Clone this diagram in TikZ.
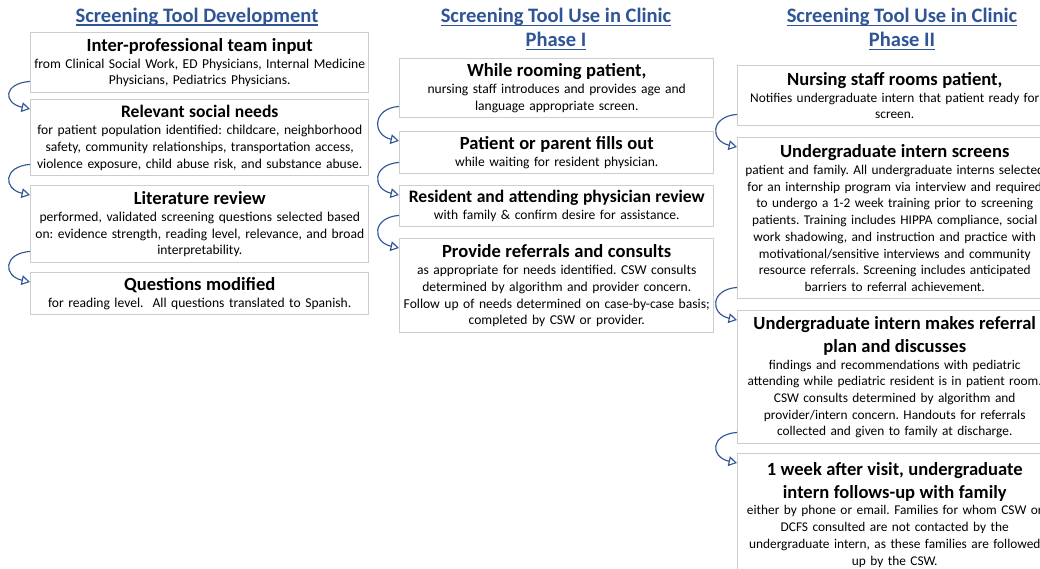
\documentclass[tikz,border=0pt]{standalone}
\usepackage{fontspec}
\setmainfont{Carlito}
\usetikzlibrary{arrows.meta,calc}
\definecolor{titleblue}{RGB}{47,85,151}
\definecolor{arrowblue}{RGB}{47,85,151}
\definecolor{boxgray}{RGB}{205,205,205}
\frenchspacing
\hyphenpenalty=10000
\newcommand{\hd}{\fontsize{13.2}{16.4}\selectfont\bfseries}
\newcommand{\hdsm}{\fontsize{12.5}{16.4}\selectfont\bfseries}
% underline drawn as a rule just under the baseline
\newcommand{\tul}[1]{\setbox0\hbox{#1}\rlap{\rule[-2.2pt]{\wd0}{0.8pt}}\box0}

\begin{document}
\begin{tikzpicture}[x=0.025cm, y=-0.025cm,
  coltitle/.style={titleblue, font=\fontsize{14.6}{17.2}\selectfont\bfseries, align=center},
  stepbox/.style={draw=boxgray, line width=1pt, anchor=north west, inner xsep=0pt, inner ysep=1pt, align=center,
    font=\fontsize{9.65}{12}\selectfont},
  widebox/.style={stepbox, text width=7.85cm, font=\fontsize{9.5}{11.9}\selectfont},
  flow/.style={arrowblue, line width=0.8pt, -{Triangle[open, length=6pt, width=7pt]}}]

\useasboundingbox (0,0) rectangle (1040,569);
\fill[white] (0,0) rectangle (1040,569);
\clip (0,0) rectangle (1040,569);

% Column titles
\node[coltitle] (t1) at (197,17) {\tul{Screening Tool Development}};
\node[coltitle] (t2) at (556,29) {\tul{Screening Tool Use in Clinic}\\\tul{Phase I}};
\node[coltitle] (t3) at (902,29) {\tul{Screening Tool Use in Clinic}\\\tul{Phase II}};

% Development
\node[stepbox, text width=8.45cm, minimum height=1.5cm] (a1) at (30,32)
  {{\hd Inter-professional team input\par}from Clinical Social Work, ED Physicians, Internal Medicine\\Physicians, Pediatrics Physicians.};
\node[stepbox, text width=8.45cm, minimum height=1.9cm] (a2) at (30,99)
  {{\hdsm Relevant social needs\par}for patient population identified: childcare, neighborhood\\safety, community relationships, transportation access,\\violence exposure, child abuse risk, and substance abuse.};
\node[stepbox, text width=8.45cm, minimum height=1.925cm] (a3) at (30,185)
  {{\hd Literature review\par}performed, validated screening questions selected based\\on: evidence strength, reading level, relevance, and broad\\interpretability.};
\node[stepbox, text width=8.45cm, minimum height=1.05cm] (a4) at (30,272)
  {{\hd Questions modified\par}for reading level.\ \ All questions translated to Spanish.};

% Phase I
\node[stepbox, text width=7.85cm, minimum height=1.475cm] (b1) at (399,58)
  {{\hd While rooming patient,\par}nursing staff introduces and provides age and\\language appropriate screen.};
\node[stepbox, text width=7.85cm, minimum height=1.05cm] (b2) at (399,131)
  {{\hd Patient or parent fills out\par}while waiting for resident physician.};
\node[stepbox, text width=7.85cm, minimum height=1.025cm] (b3) at (399,185)
  {{\hdsm Resident and attending physician review\par}with family \& confirm desire for assistance.};
\node[stepbox, text width=7.85cm, minimum height=2.35cm] (b4) at (399,238)
  {{\hd Provide referrals and consults\par}as appropriate for needs identified. CSW consults\\determined by algorithm and provider concern.\\Follow up of needs determined on case-by-case basis;\\completed by CSW or provider.};

% Phase II
\node[widebox, minimum height=1.5cm] (c1) at (737,65)
  {{\hd Nursing staff rooms patient,\par}Notifies undergraduate intern that patient ready for\\screen.};
\node[widebox, minimum height=4.025cm] (c2) at (737,137)
  {{\hd Undergraduate intern screens\par}patient and family. All undergraduate interns selected\\for an internship program via interview and required\\to undergo a 1-2 week training prior to screening\\patients. Training includes HIPPA compliance, social\\work shadowing, and instruction and practice with\\motivational/sensitive interviews and community\\resource referrals. Screening includes anticipated\\barriers to referral achievement.};
\node[widebox, minimum height=3.325cm] (c3) at (737,310)
  {{\hd Undergraduate intern makes referral\\plan and discusses\par}findings and recommendations with pediatric\\attending while pediatric resident is in patient room.\\CSW consults determined by algorithm and\\provider/intern concern. Handouts for referrals\\collected and given to family at discharge.};
\node[widebox, minimum height=3.05cm] (c4) at (737,453)
  {{\hd 1 week after visit, undergraduate\\intern follows-up with family\par}either by phone or email. Families for whom CSW or\\DCFS consulted are not contacted by the\\undergraduate intern, as these families are followed\\up by the CSW.};

% Curved arrows down each column
\foreach \s/\t in {a1/a2,a2/a3,a3/a4,b1/b2,b2/b3,b3/b4,c1/c2,c2/c3,c3/c4} {
  \draw[flow] ($(\s.south west)+(0,-12)$) .. controls +(-27,2) and +(-27,-6) .. ($(\t.north west)+(0,10)$);
}

\end{tikzpicture}
\end{document}
